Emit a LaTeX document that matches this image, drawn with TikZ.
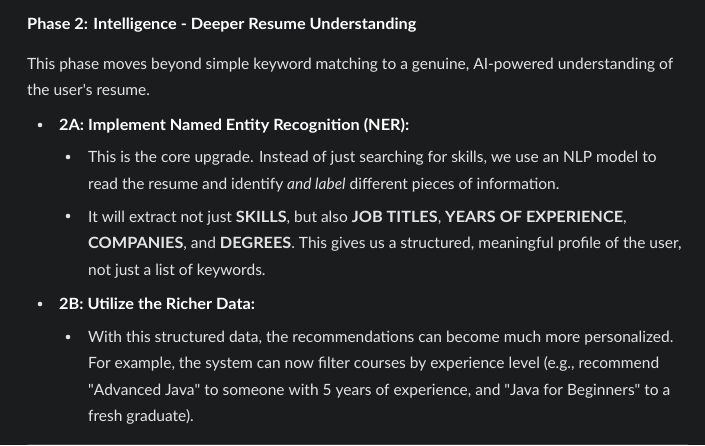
\documentclass[tikz,border=0pt]{standalone}
\usepackage{fontspec}
\setmainfont{Lato}[BoldFeatures={FakeStretch=1.05}]
\usepackage{tikz}

\definecolor{pagebg}{HTML}{1B1C1D}
\definecolor{bodytext}{HTML}{E3E3E3}
\definecolor{rulegray}{HTML}{3C3F41}

\tikzset{
    txt/.style={anchor=base west, inner sep=0pt, text=bodytext, font=\fontsize{15.5}{17}\selectfont},
    head/.style={txt, font=\fontsize{15.5}{17}\selectfont\bfseries, text=white},
    dot/.style={circle, fill=bodytext, inner sep=0pt, minimum size=4.6pt}
}

\begin{document}
\begin{tikzpicture}[x=1pt,y=-1pt]
        \fill[pagebg] (0,0) rectangle (705,445);
        \useasboundingbox (0,0) rectangle (705,445);

        \node[head] (title) at (27,29) {Phase 2: Intelligence - Deeper Resume Understanding};

        \node[txt] (intro1) at (27,69) {This phase moves beyond simple keyword matching to a genuine, AI-powered understanding of};
        \node[txt] (intro2) at (27,95) {the user\textquotesingle s resume.};

        \node[dot] (dotA) at (40,125) {};
        \node[head] (stepA) at (59,130) {2A: Implement Named Entity Recognition (NER):};

        \node[dot] (dotA1) at (68,157) {};
        \node[txt] (a11) at (88,162) {This is the core upgrade. Instead of just searching for skills, we use an NLP model to};
        \node[txt] (a12) at (88,189) {read the resume and identify \textit{and label} different pieces of information.};

        \node[dot] (dotA2) at (68,216) {};
        \node[txt] (a21) at (88,222) {It will extract not just \textbf{SKILLS}, but also \textbf{JOB TITLES}, \textbf{YEARS OF EXPERIENCE},};
        \node[txt] (a22) at (88,248) {\textbf{COMPANIES}, and \textbf{DEGREES}. This gives us a structured, meaningful profile of the user,};
        \node[txt] (a23) at (88,275) {not just a list of keywords.};

        \node[dot] (dotB) at (40,304) {};
        \node[head] (stepB) at (59,309) {2B: Utilize the Richer Data:};

        \node[dot] (dotB1) at (68,337) {};
        \node[txt] (b11) at (88,342) {With this structured data, the recommendations can become much more personalized.};
        \node[txt] (b12) at (88,368) {For example, the system can now filter courses by experience level (e.g., recommend};
        \node[txt] (b13) at (88,395) {\textquotedbl Advanced Java\textquotedbl{} to someone with 5 years of experience, and \textquotedbl Java for Beginners\textquotedbl{} to a};
        \node[txt] (b14) at (88,421) {fresh graduate).};

        \draw[rulegray, line width=1pt] (27,444.5) -- (688,444.5);
\end{tikzpicture}
\end{document}
